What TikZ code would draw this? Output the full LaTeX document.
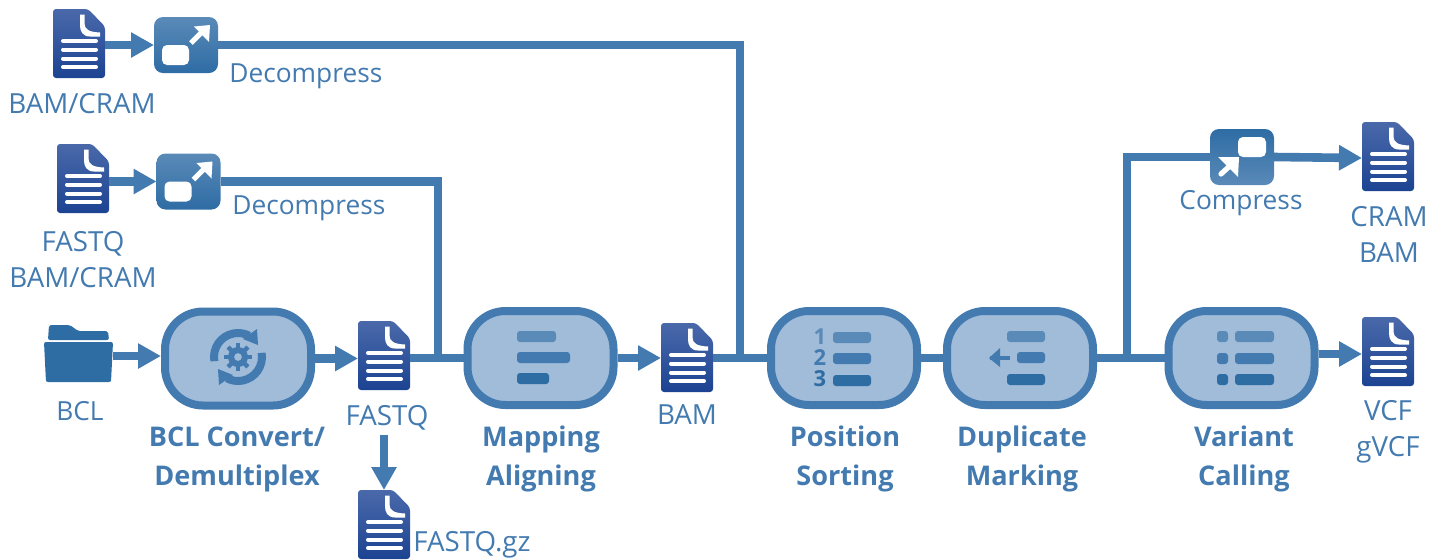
\documentclass[tikz,border=0pt]{standalone}
\usepackage{fontspec}
\setmainfont{Open Sans}
\usetikzlibrary{arrows.meta}
\definecolor{stk}{HTML}{437AAF}
\definecolor{fil}{HTML}{A0BCD9}
\definecolor{barA}{HTML}{5A8AB8}
\definecolor{barB}{HTML}{2E6CA4}
\definecolor{docA}{HTML}{4A69AA}
\definecolor{docB}{HTML}{1C4392}
\tikzset{
  x=0.5pt,y=-0.5pt,
  link/.style={draw=stk,line width=4.3pt},
  flow/.style={link,-{Triangle[length=11.5pt,width=12pt]}},
  procbox/.style={draw=stk,line width=4pt,fill=fil,rounded corners=19pt,minimum width=73pt,minimum height=47pt,inner sep=0pt},
  iconbox/.style={inner sep=0pt,outer sep=0pt,minimum width=26pt,minimum height=34.5pt},
  zipbox/.style={inner sep=0pt,outer sep=0pt,minimum width=32pt,minimum height=28pt},
  lbl/.style={text=stk,font=\fontsize{13.15pt}{15pt}\selectfont,inner sep=0pt,align=center},
  clbl/.style={text=stk,font=\fontsize{13.85pt}{18pt}\selectfont,inner sep=0pt,align=center},
  blbl/.style={text=stk,font=\fontsize{13.55pt}{19.5pt}\selectfont\bfseries,inner sep=0pt,align=center},
  numlbl/.style={inner sep=0pt,font=\fontsize{11pt}{11pt}\selectfont\bfseries},
}
\newcommand{\docicon}[3]{%
  \node[iconbox] (#1) at (#2,#3) {};
  \begin{scope}[shift={(#2,#3)}]
    \shade[top color=docA,bottom color=docB,rounded corners=1.5pt] (-26,-34.5) -- (9,-34.5) -- (26,-17) -- (26,34.5) -- (-26,34.5) -- cycle;
    \fill[white] (1,-29) -- (5.5,-29) -- (5.5,-20) .. controls (5.5,-14) and (10,-11.5) .. (21,-11) -- (21,-7) -- (11,-7) .. controls (4,-7) and (1,-12) .. (1,-18) -- cycle;
    \foreach \yy in {-2.5,6,15,23.5}{\draw[white,line width=2pt,line cap=round] (-16,\yy) -- (17,\yy);}
  \end{scope}}
\newcommand{\onebar}[5]{\fill[#5,rounded corners=1.5pt] (#1,#3) rectangle (#2,#4);}
\begin{document}
\begin{tikzpicture}
\useasboundingbox (0,0) rectangle (1440,559);
% file icons
\docicon{docA}{79}{43.5}
\docicon{docB}{83}{178.5}
\docicon{docC}{384}{355.5}
\docicon{docD}{384}{524.5}
\docicon{docE}{687}{357.5}
\docicon{docF}{1388}{156.5}
\docicon{docG}{1388}{351.5}
% folder
\node[inner sep=0pt,minimum width=34.5pt,minimum height=28.5pt] (bclf) at (78.5,353.5) {};
\fill[barB,rounded corners=1pt] (48,340) -- (49,325) -- (70,325) -- (78,331) -- (108,331) -- (109,340) -- cycle;
\fill[barB,rounded corners=1pt] (44,342) -- (113,342) -- (111,382) -- (46,382) -- cycle;
% process boxes
\node[procbox] (bcl) at (238,358.5) {};
\node[procbox] (map) at (540.5,358) {};
\node[procbox] (pos) at (844,358) {};
\node[procbox] (dup) at (1020,358) {};
\node[procbox] (var) at (1241.5,358) {};
% compress / decompress
\node[zipbox] (decA) at (186,45) {};
\node[zipbox] (decB) at (188.5,181.5) {};
\node[zipbox] (cmp) at (1242,157) {};
\coordinate (jA) at (740,361);
\coordinate (jB) at (438,360);
\coordinate (jC) at (1127,361);
% connectors
\draw[link] (decA.east) -| (jA);
\draw[link] (decB.east) -| (jB);
\draw[link] (docC.east |- map.west) -- (map.west);
\draw[link] (docE.east |- pos.west) -- (pos.west);
\draw[link] (pos.east) -- (dup.west);
\draw[link] (dup.east) -- (var.west);
\draw[link] (jC) |- (cmp.west);
\draw[flow] (docA.east |- decA.west) -- (decA.west);
\draw[flow] (docB.east |- decB.west) -- (decB.west);
\draw[flow] (bclf.east |- 0,356) -- (bcl.west |- 0,356);
\draw[flow] (bcl.east) -- (docC.west |- bcl.east);
\draw[flow] (map.east) -- (docE.west |- map.east);
\draw[flow] (var.east |- 0,354) -- (docG.west |- 0,354);
\draw[flow] (cmp.east) -- (docF.west |- 0,158);
\draw[flow] (docC.south |- 0,435) -- (docD.north);
% zip icons
\foreach \n/\cx/\cy in {decA/186/45,decB/188.5/181.5}{
  \begin{scope}[shift={(\cx,\cy)}]
    \shade[top color=barA,bottom color=barB,rounded corners=4.5pt] (-32,-28) rectangle (32,28);
    \fill[white,rounded corners=2.5pt] (-24,0) rectangle (3,20);
    \draw[white,line width=2.6pt] (5,-2) -- (18,-15);
    \fill[white] (8,-18.5) -- (24,-20) -- (23,-3) -- cycle;
  \end{scope}}
\begin{scope}[shift={(1242,157)}]
  \shade[top color=barB,bottom color=barA,rounded corners=4.5pt] (-32,-28) rectangle (32,28);
  \fill[white,rounded corners=2.5pt] (-4,-20) rectangle (24,0);
  \draw[white,line width=2.6pt,line cap=round] (-21,17) -- (-9,6);
  \fill[white] (-24,0) -- (-3,0) -- (-4,20) -- cycle;
\end{scope}
% process glyphs
\onebar{517}{556}{331}{342}{barA}
\onebar{517}{570}{352}{363}{stk}
\onebar{517}{549}{373}{384}{barB}
\onebar{833}{871}{332}{343}{barA}
\onebar{833}{871}{353}{364}{stk}
\onebar{833}{871}{375}{386}{barB}
\node[numlbl,text=barA] (n1) at (820,337) {1};
\node[numlbl,text=stk] (n2) at (820,358) {2};
\node[numlbl,text=barB] (n3) at (820,379) {3};
\onebar{1007}{1045}{331}{342}{barA}
\onebar{1017}{1045}{352}{363}{stk}
\onebar{1007}{1045}{374}{385}{barB}
\draw[stk,line width=1.8pt] (990,358) -- (1010,358);
\fill[stk] (989,358) -- (1000,348) -- (1000,367) -- cycle;
\onebar{1217}{1228}{331}{342}{barA}
\onebar{1235}{1274}{331}{342}{barA}
\onebar{1217}{1228}{353}{364}{stk}
\onebar{1235}{1274}{353}{364}{stk}
\onebar{1217}{1228}{374}{385}{barB}
\onebar{1235}{1274}{374}{385}{barB}
% gear and arrows
\begin{scope}[shift={(238,357)}]
  \draw[stk,line width=4pt] (-190:24) arc[start angle=-190,end angle=-62,radius=24];
  \fill[stk] (19,-28) -- (20,-12) -- (5,-18) -- cycle;
  \draw[stk,line width=4pt] (-10:24) arc[start angle=-10,end angle=118,radius=24];
  \fill[stk] (-19,28) -- (-20,12) -- (-5,18) -- cycle;
  \foreach \a in {0,45,...,315}{\draw[stk,line width=2.2pt] (\a:8) -- (\a:14);}
  \fill[stk,even odd rule] (0,0) circle[radius=10] (0,0) circle[radius=4];
\end{scope}
% labels
\node[clbl] (t1) at (82,104) {BAM/CRAM};
\node[lbl,anchor=west] (t2) at (229,76) {Decompress};
\node[clbl] (t3) at (83,260) {FASTQ\\BAM/CRAM};
\node[lbl,anchor=west] (t4) at (232,208) {Decompress};
\node[lbl] (t5) at (80,411) {BCL};
\node[blbl] (t6) at (237,459) {BCL Convert/\\Demultiplex};
\node[clbl] (t7) at (387,418) {FASTQ};
\node[clbl,anchor=west] (t8) at (413,544.5) {FASTQ.gz};
\node[blbl] (t9) at (541,459) {Mapping\\Aligning};
\node[clbl] (t10) at (687,415) {BAM};
\node[blbl] (t11) at (845,459) {Position\\Sorting};
\node[blbl] (t12) at (1022,459) {Duplicate\\Marking};
\node[blbl] (t13) at (1244,459) {Variant\\Calling};
\node[lbl] (t14) at (1241,203) {Compress};
\node[clbl] (t15) at (1389,234) {CRAM\\BAM};
\node[clbl] (t16) at (1388,432) {VCF\\gVCF};
\end{tikzpicture}
\end{document}
